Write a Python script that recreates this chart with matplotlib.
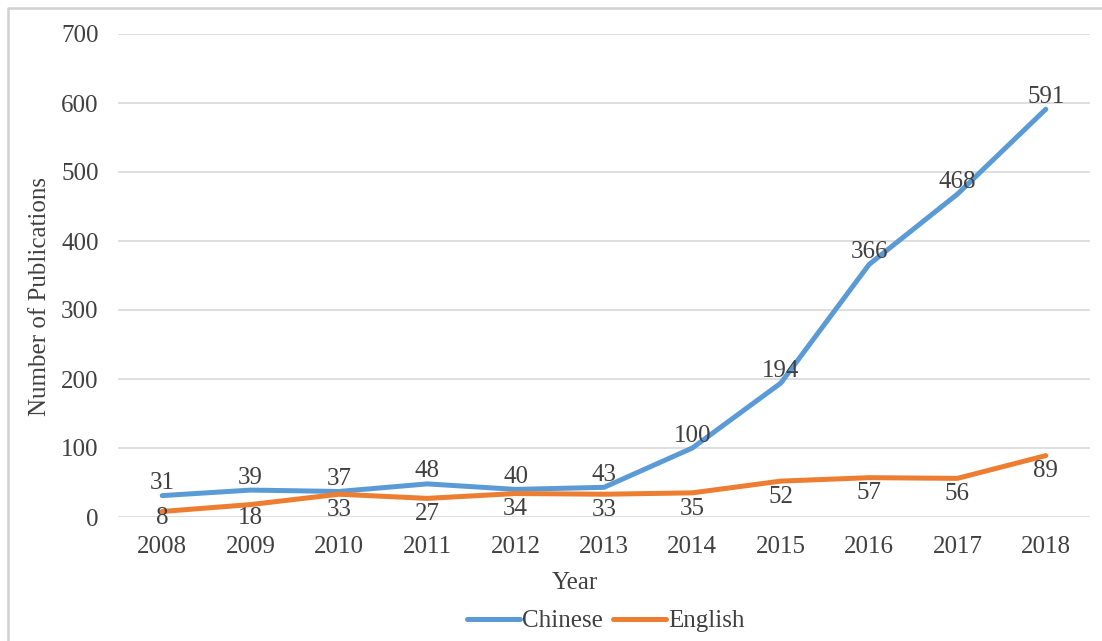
import matplotlib
matplotlib.use("Agg")
from matplotlib import pyplot as plt
from matplotlib.lines import Line2D

years = ["2008", "2009", "2010", "2011", "2012", "2013", "2014", "2015", "2016", "2017", "2018"]
chinese = [31, 39, 37, 48, 40, 43, 100, 194, 366, 468, 591]
english = [8, 18, 33, 27, 34, 33, 35, 52, 57, 56, 89]
yticks = [0, 100, 200, 300, 400, 500, 600, 700]

plt.rcParams['font.family'] = ['Liberation Serif', 'DejaVu Serif']
txt = '#404040'
fs = 18

W, H = 1102, 641
fig = plt.figure(figsize=(W / 100, H / 100), dpi=100)
ax = fig.add_axes([118/W, 1 - 517/H, (1090-118)/W, (517-34)/H])

x = list(range(len(years)))
ax.plot(x, chinese, color='#5B9BD5', lw=3.6, solid_capstyle='round', label='Chinese')
ax.plot(x, english, color='#ED7D31', lw=3.6, solid_capstyle='round', label='English')

# data labels: Chinese above, English below (kept from dropping too far under the axis)
for i, v in enumerate(chinese):
    ax.annotate(str(v), (i, v), xytext=(0, 1), textcoords='offset points',
                ha='center', va='bottom', fontsize=fs, color=txt)
for i, v in enumerate(english):
    ax.annotate(str(v), (i, max(v, 22)), xytext=(0, -3.4), textcoords='offset points',
                ha='center', va='top', fontsize=fs, color=txt)

ax.set_xlim(-0.5, len(years) - 0.5)
ax.set_ylim(0, 700)
ax.set_yticks(yticks)
ax.set_xticks(x)
ax.set_xticklabels(years)
ax.tick_params(length=0, labelsize=fs, colors=txt)
ax.tick_params(axis='y', pad=14)
ax.tick_params(axis='x', pad=14)
ax.grid(axis='y', color='#d9d9d9', lw=1.2)
ax.set_axisbelow(True)
for s in ax.spines.values():
    s.set_visible(False)

ax.set_xlabel('Year', fontsize=fs, color=txt)
ax.xaxis.set_label_coords((575-118)/972, (517-583)/483)
ax.xaxis.label.set_va('center')
ax.set_ylabel('Number of Publications', fontsize=fs, color=txt)
ax.yaxis.set_label_coords((40-118)/972, (517-296)/483)
ax.yaxis.label.set_va('center')

leg = fig.legend(loc='center', bbox_to_anchor=(606/W, 1 - 621/H), ncol=2, frameon=False,
                 fontsize=fs, handlelength=2.1, columnspacing=0.4, handletextpad=0.1)
for t in leg.get_texts():
    t.set_color(txt)

# outer frame, only left and top edges are visible in the crop
fig.add_artist(Line2D([7.5/W, 7.5/W, 1], [0, 1 - 8/H, 1 - 8/H], transform=fig.transFigure,
                      color='#d0d0d0', lw=1.8))

fig.savefig('out.png', dpi=100)
